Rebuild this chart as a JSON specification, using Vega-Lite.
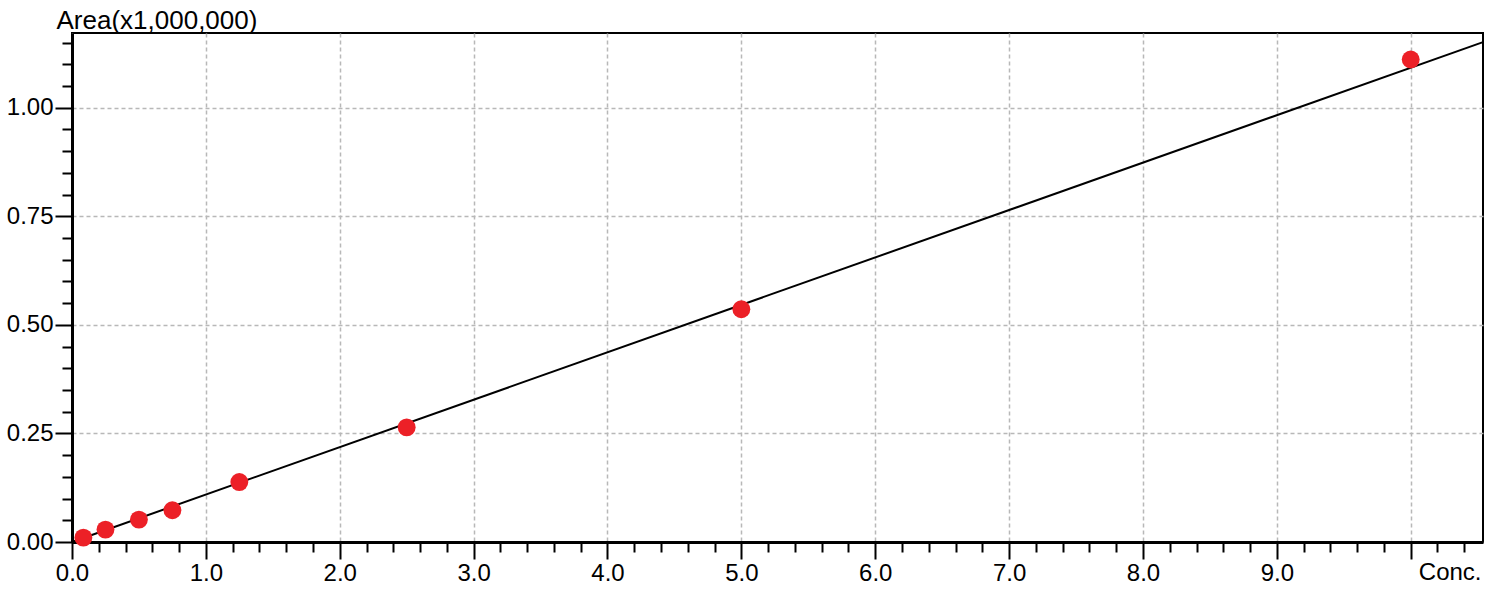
{
  "$schema": "https://vega.github.io/schema/vega-lite/v6.json",
  "width": 1411,
  "height": 509,
  "autosize": "none",
  "padding": {"left": 72, "top": 33, "right": 17, "bottom": 51},
  "background": "white",
  "config": {
    "view": {"stroke": "black", "strokeWidth": 2},
    "font": "Liberation Sans"
  },
  "datasets": {
    "points": [
      {"conc": 0.085, "area": 0.010},
      {"conc": 0.25, "area": 0.0286},
      {"conc": 0.5, "area": 0.0516},
      {"conc": 0.75, "area": 0.073},
      {"conc": 1.25, "area": 0.138},
      {"conc": 2.5, "area": 0.264},
      {"conc": 5.0, "area": 0.536},
      {"conc": 10.0, "area": 1.111}
    ],
    "fit": [
      {"conc": 0, "area": 0.0},
      {"conc": 10.54, "area": 1.151}
    ]
  },
  "encoding": {
    "x": {
      "field": "conc",
      "type": "quantitative",
      "scale": {"domain": [0, 10.54], "nice": false, "zero": false},
      "axis": {
        "values": [0,0.2,0.4,0.6,0.8,1,1.2,1.4,1.6,1.8,2,2.2,2.4,2.6,2.8,3,3.2,3.4,3.6,3.8,4,4.2,4.4,4.6,4.8,5,5.2,5.4,5.6,5.8,6,6.2,6.4,6.6,6.8,7,7.2,7.4,7.6,7.8,8,8.2,8.4,8.6,8.8,9,9.2,9.4,9.6,9.8,10,10.2,10.4],
        "title": "Conc.",
        "titleX": 1409,
        "titleY": 37,
        "titleAlign": "right",
        "titleBaseline": "alphabetic",
        "titleFontSize": 24,
        "titleFontWeight": "normal",
        "titleColor": "black",
        "labelExpr": "abs(datum.value - round(datum.value)) < 0.001 && datum.value < 9.5 ? format(datum.value, '.1f') : ''",
        "labelFontSize": 24,
        "labelColor": "black",
        "labelFlush": false,
        "labelOverlap": false,
        "labelPadding": 2,
        "domainColor": "black",
        "domainWidth": 3,
        "tickColor": "black",
        "tickWidth": 2,
        "tickSize": {"condition": {"test": "abs(datum.value - round(datum.value)) < 0.001", "value": 17}, "value": 10},
        "grid": true,
        "gridColor": "#b8b8b8",
        "gridDash": [4, 3],
        "gridWidth": 1.5,
        "gridOpacity": {"condition": {"test": "abs(datum.value - round(datum.value)) < 0.001", "value": 1}, "value": 0}
      }
    },
    "y": {
      "field": "area",
      "type": "quantitative",
      "scale": {"domain": [0, 1.172], "nice": false, "zero": false},
      "axis": {
        "values": [0,0.05,0.1,0.15,0.2,0.25,0.3,0.35,0.4,0.45,0.5,0.55,0.6,0.65,0.7,0.75,0.8,0.85,0.9,0.95,1,1.05,1.1,1.15],
        "title": "Area(x1,000,000)",
        "titleAngle": 0,
        "titleX": -16,
        "titleY": -5,
        "titleAlign": "left",
        "titleBaseline": "alphabetic",
        "titleFontSize": 26,
        "titleFontWeight": "normal",
        "titleColor": "black",
        "labelExpr": "abs(datum.value * 4 - round(datum.value * 4)) < 0.001 ? format(datum.value, '.2f') : ''",
        "labelFontSize": 24,
        "labelColor": "black",
        "labelFlush": false,
        "labelOverlap": false,
        "labelPadding": 2,
        "domainColor": "black",
        "domainWidth": 3,
        "tickColor": "black",
        "tickWidth": 2,
        "tickSize": {"condition": {"test": "abs(datum.value * 4 - round(datum.value * 4)) < 0.001", "value": 17}, "value": 10},
        "grid": true,
        "gridColor": "#b8b8b8",
        "gridDash": [4, 3],
        "gridWidth": 1.5,
        "gridOpacity": {"condition": {"test": "abs(datum.value * 4 - round(datum.value * 4)) < 0.001", "value": 1}, "value": 0}
      }
    }
  },
  "layer": [
    {
      "data": {"name": "fit"},
      "mark": {"type": "line", "color": "black", "strokeWidth": 2}
    },
    {
      "data": {"name": "points"},
      "mark": {"type": "circle", "color": "#ec2027", "opacity": 1, "size": 320}
    }
  ]
}
